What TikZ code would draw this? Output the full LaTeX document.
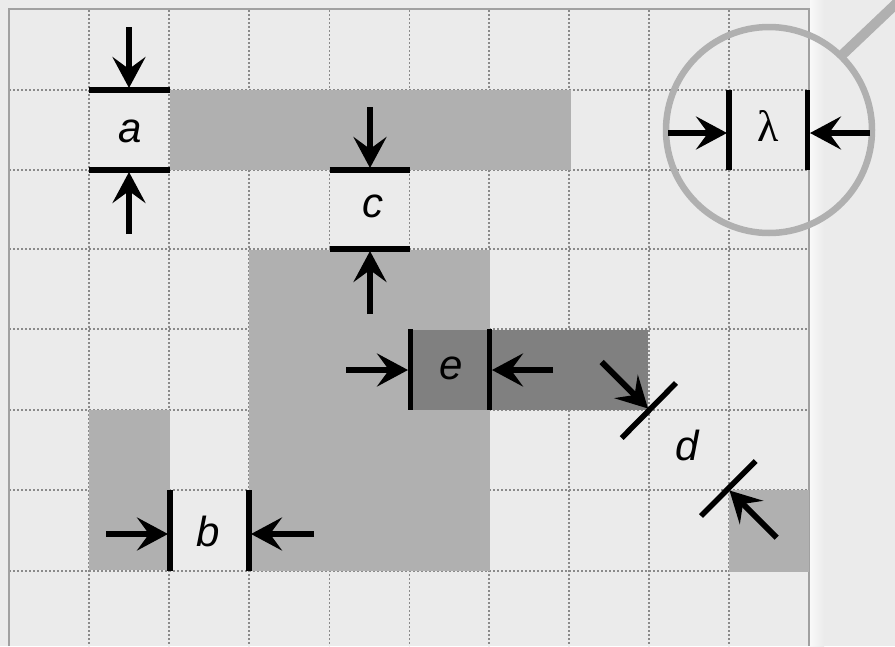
\documentclass[tikz,border=0pt]{standalone}
\usepackage{fontspec}
\setmainfont{Liberation Sans}
\usetikzlibrary{arrows.meta}
\definecolor{bgc}{HTML}{EBEBEB}
\definecolor{midg}{HTML}{B0B0B0}
\definecolor{darkg}{HTML}{808080}
\definecolor{gridc}{HTML}{8A8A8A}
\definecolor{framec}{HTML}{A0A0A0}
\newfontfamily\symfont{Liberation Serif}
\tikzset{
  gridline/.style={draw=gridc,line width=1.6pt,dash pattern=on 2pt off 2pt},
  midblock/.style={fill=midg,draw=none},
  darkblock/.style={fill=darkg,draw=none},
  barline/.style={draw=black,line width=5.5pt},
  dimarrow/.style={draw=black,line width=6pt,-{Stealth[length=31pt,width=33pt,inset=12pt]}},
  dimlabel/.style={font=\itshape\fontsize{42pt}{42pt}\selectfont,inner sep=0pt,text=black},
  lenslabel/.style={font=\symfont\fontsize{44pt}{44pt}\selectfont,inner sep=0pt,text=black},
  lensring/.style={draw=midg,line width=6.5pt}
}
\begin{document}
\begin{tikzpicture}[x=1pt,y=-1pt]
\useasboundingbox (0,0) rectangle (895,646);
\fill[bgc] (0,0) rectangle (895,646);
\shade[left color=white!70!bgc,right color=bgc] (810,0) rectangle (824,646);
% grid
\foreach \x in {89,169,249,329.5,409.5,489,569,649,729}
  \draw[gridline] (\x,10) -- (\x,646);
\foreach \y in {90,170,249,329,410,490,571}
  \draw[gridline] (9,\y) -- (809,\y);
\draw[draw=framec,line width=2pt] (8.5,646) -- (8.5,9) -- (809,9) -- (809,646);
% blocks
\path[midblock] (170,90) rectangle (571,170);
\path[midblock] (249,250) rectangle (490,571);
\path[midblock] (89,410) rectangle (170,570);
\path[midblock] (729,490) rectangle (809,572);
\path[darkblock] (410,330) rectangle (648,410);
% lens
\node[draw=none,inner sep=0pt,minimum size=0pt] (lens) at (769,130) {};
\coordinate (hs) at (841,56);
\coordinate (he) at (900,0);
\draw[lensring] (lens) circle (103);
\draw[draw=midg,line width=10pt] (hs) -- (he);
% a
\coordinate (aT) at (129,27); \coordinate (aTt) at (129,88);
\coordinate (aB) at (129,234); \coordinate (aBt) at (129,172);
\coordinate (a1) at (89,90); \coordinate (a2) at (170,90);
\coordinate (a3) at (89,170); \coordinate (a4) at (170,170);
\draw[barline] (a1) -- (a2);
\draw[barline] (a3) -- (a4);
\draw[dimarrow] (aT) -- (aTt);
\draw[dimarrow] (aB) -- (aBt);
\node[dimlabel] (la) at (130,131) {a};
% c
\coordinate (cT) at (370,107); \coordinate (cTt) at (370,168);
\coordinate (cB) at (370,314); \coordinate (cBt) at (370,251);
\coordinate (c1) at (329.5,170); \coordinate (c2) at (409.5,170);
\coordinate (c3) at (329.5,249); \coordinate (c4) at (409.5,249);
\draw[barline] (c1) -- (c2);
\draw[barline] (c3) -- (c4);
\draw[dimarrow] (cT) -- (cTt);
\draw[dimarrow] (cB) -- (cBt);
\node[dimlabel] (lc) at (372.7,206) {c};
% b
\coordinate (bL) at (106,534); \coordinate (bLt) at (168,534);
\coordinate (bR) at (314,534); \coordinate (bRt) at (251,534);
\coordinate (b1) at (170,490); \coordinate (b2) at (170,571);
\coordinate (b3) at (249,490); \coordinate (b4) at (249,571);
\draw[barline] (b1) -- (b2);
\draw[barline] (b3) -- (b4);
\draw[dimarrow] (bL) -- (bLt);
\draw[dimarrow] (bR) -- (bRt);
\node[dimlabel] (lb) at (208,531) {b};
% e
\coordinate (eL) at (346,370); \coordinate (eLt) at (408,370);
\coordinate (eR) at (553,370); \coordinate (eRt) at (492,370);
\coordinate (e1) at (410.5,329); \coordinate (e2) at (410.5,410);
\coordinate (e3) at (489.3,329); \coordinate (e4) at (489.3,410);
\draw[barline] (e1) -- (e2);
\draw[barline] (e3) -- (e4);
\draw[dimarrow] (eL) -- (eLt);
\draw[dimarrow] (eR) -- (eRt);
\node[dimlabel] (le) at (450.7,368) {e};
% d
\coordinate (dA) at (601.7,362); \coordinate (dAt) at (648,408.5);
\coordinate (dB) at (776.7,537.7); \coordinate (dBt) at (729.5,490.5);
\coordinate (d1) at (621.7,438); \coordinate (d2) at (676,383);
\coordinate (d3) at (701,516); \coordinate (d4) at (755.7,461);
\draw[barline] (d1) -- (d2);
\draw[barline] (d3) -- (d4);
\draw[dimarrow] (dA) -- (dAt);
\draw[dimarrow] (dB) -- (dBt);
\node[dimlabel] (ld) at (687,445) {d};
% lambda
\coordinate (lL) at (668,133); \coordinate (lLt) at (727,133);
\coordinate (lR) at (870,133); \coordinate (lRt) at (810,133);
\coordinate (l1) at (729,90); \coordinate (l2) at (729,170);
\coordinate (l3) at (807.5,90); \coordinate (l4) at (807.5,170);
\draw[barline] (l1) -- (l2);
\draw[barline] (l3) -- (l4);
\draw[dimarrow] (lL) -- (lLt);
\draw[dimarrow] (lR) -- (lRt);
\node[lenslabel] (ll) at (768,126) {λ};
\end{tikzpicture}
\end{document}
